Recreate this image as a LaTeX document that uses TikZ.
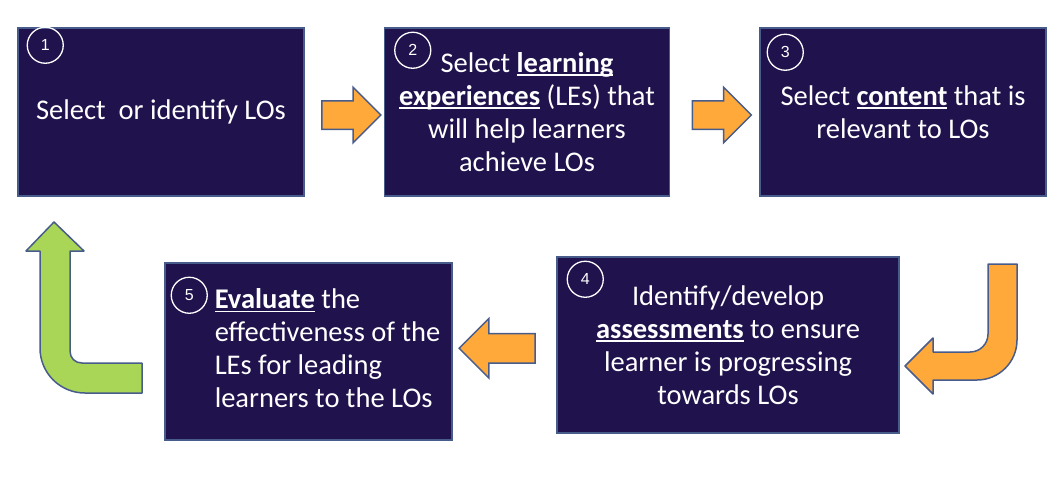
\documentclass[tikz,border=0pt]{standalone}
\usepackage{fontspec}
\setmainfont{Carlito}
\newfontfamily\numfont{Liberation Sans}
\usetikzlibrary{shapes.arrows, positioning, calc}
\definecolor{boxnavy}{RGB}{32,18,77}
\definecolor{edgeblue}{RGB}{72,92,140}
\definecolor{flowgold}{RGB}{255,169,58}
\definecolor{loopgreen}{RGB}{169,214,86}
\newsavebox\keybox
\newcommand{\keyword}[1]{\sbox\keybox{\textbf{#1}}\rlap{\rule[-3.5pt]{\wd\keybox}{1.6pt}}\usebox\keybox}

\begin{document}
\begin{tikzpicture}[
    x=1pt, y=-1pt,
    stepbox/.style={draw=edgeblue, line width=1.5pt, fill=boxnavy, text=white,
                    align=center, inner sep=0pt, font=\fontsize{28.5}{33}\selectfont},
    num/.style={circle, draw=white, line width=1.3pt, minimum size=36pt, inner sep=0pt,
                text=white, font=\numfont\fontsize{16}{16}\selectfont},
    fwd/.style={single arrow, draw=edgeblue, line width=1.5pt, fill=flowgold,
                inner sep=13.5pt, single arrow head extend=13.5pt, minimum height=59pt},
    uturn/.style={draw=edgeblue, line width=1.5pt, line join=round}
]
    \useasboundingbox (0,0) rectangle (1052,477);

    % top row
    \node[stepbox, minimum width=286pt, minimum height=168pt] (s1) at (161,112)
        {Select~ or identify LOs};
    \node[stepbox, minimum width=285pt, minimum height=168pt, right=79pt of s1] (s2)
        {Select \keyword{learning}\\ \keyword{experiences} (LEs) that\\ will help learners\\ achieve LOs};
    \node[stepbox, minimum width=286pt, minimum height=168pt, right=89pt of s2] (s3)
        {Select \keyword{content} that is\\ relevant to LOs};

    % bottom row
    \node[stepbox, minimum width=342pt, minimum height=176pt] (s4) at (728,345)
        {Identify/develop\\ \keyword{assessments} to ensure\\ learner is progressing\\ towards LOs};
    \node[stepbox, minimum width=287pt, minimum height=177pt] (s5) at (308.5,351.5)
        {\hspace*{38pt}\begin{tabular}{@{}l@{}}\keyword{Evaluate} the\\ effectiveness of the\\ LEs for leading\\ learners to the LOs\end{tabular}};

    % step numbers
    \node[num] (n1) at ($(s1.north west)+(28,18)$) {1};
    \node[num] (n2) at ($(s2.north west)+(29,23)$) {2};
    \node[num] (n3) at ($(s3.north west)+(26,25)$) {3};
    \node[num] (n4) at ($(s4.north west)+(29,23)$) {4};
    \node[num] (n5) at ($(s5.north west)+(25,33)$) {5};

    % straight arrows
    \node[fwd, yshift=-3pt] (a12) at ($(s1.east)!0.5!(s2.west)$) {};
    \node[fwd, yshift=-3pt] (a23) at ($(s2.east)!0.5!(s3.west)$) {};
    \node[fwd, shape border rotate=180, minimum height=76pt, inner sep=14pt,
          single arrow head extend=15pt] (a45) at ($(s4.west)!0.5!(s5.east)$) {};

    % turn from 3 down to 4
    \draw[uturn, fill=flowgold] (988,264) -- (1017,264) -- (1017,340)
        .. controls (1017,362) and (999,380) .. (977,380) -- (933,380) -- (933,394)
        -- (905,366) -- (933,338) -- (933,352) -- (970,352)
        .. controls (980,352) and (988,344) .. (988,334) -- cycle;

    % loop back from 5 to 1
    \draw[uturn, fill=loopgreen] (54,222) -- (84,251) -- (70,251) -- (70,351)
        .. controls (70,358) and (75,363) .. (82,363) -- (142,363) -- (142,393)
        -- (85,393) .. controls (60,393) and (40,373) .. (40,348) -- (40,251)
        -- (26,251) -- cycle;
\end{tikzpicture}
\end{document}
